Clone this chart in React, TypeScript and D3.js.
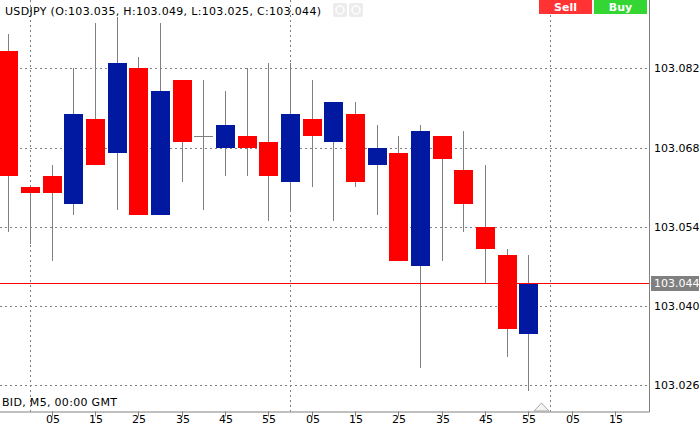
import React from "react";
import * as d3 from "d3";

// ---- data ----
const opens = [103.085, 103.061, 103.063, 103.058, 103.073, 103.067, 103.082, 103.056, 103.080, 103.070, 103.068, 103.070, 103.069, 103.062, 103.073, 103.069, 103.074, 103.065, 103.067, 103.047, 103.070, 103.064, 103.054, 103.049, 103.035];
const highs = [103.088, 103.061, 103.065, 103.082, 103.090, 103.091, 103.084, 103.090, 103.080, 103.080, 103.078, 103.082, 103.083, 103.083, 103.080, 103.076, 103.076, 103.072, 103.070, 103.072, 103.070, 103.071, 103.065, 103.050, 103.049];
const lows = [103.053, 103.051, 103.048, 103.056, 103.065, 103.057, 103.056, 103.056, 103.062, 103.057, 103.063, 103.063, 103.055, 103.057, 103.061, 103.055, 103.061, 103.056, 103.048, 103.029, 103.048, 103.053, 103.044, 103.031, 103.025];
const closes = [103.063, 103.060, 103.060, 103.074, 103.065, 103.083, 103.056, 103.078, 103.069, 103.070, 103.072, 103.068, 103.063, 103.074, 103.070, 103.076, 103.062, 103.068, 103.048, 103.071, 103.066, 103.058, 103.050, 103.036, 103.044];
const priceTicks = [103.082, 103.068, 103.054, 103.040, 103.026];
const timeLabels = ["05", "15", "25", "35", "45", "55", "05", "15", "25", "35", "45", "55", "05", "15"];
const hourIndices = [1, 13, 25];
const currentPrice = 103.044;
const symbol = "USDJPY";
const infoText = "BID, M5, 00:00 GMT";

const W = 699;
const H = 425;
const plotRight = 649;
const plotBottom = 411.5;

const fontFamily = "'DejaVu Sans', Verdana, sans-serif";

export default function App() {
  const x = d3.scaleLinear().domain([0, 24]).range([8.2, 528.2]);
  const y = d3.scaleLinear().domain([103.026, 103.082]).range([385.2, 68.4]);
  const cx = (i: number) => Math.round(x(i));
  const py = (p: number) => Math.round(y(p));

  const candles = opens.map((o, i) => ({ o, h: highs[i], l: lows[i], c: closes[i], i }));
  const header = `${symbol} (O:${opens[24].toFixed(3)}, H:${highs[24].toFixed(3)}, L:${lows[24].toFixed(3)}, C:${closes[24].toFixed(3)})`;

  return (
    <svg width={W} height={H} style={{ position: "absolute", left: 0, top: 0, background: "#fff" }} fontFamily={fontFamily}>
      <rect x={0} y={0} width={W} height={H} fill="#ffffff" />
      {/* grid */}
      {priceTicks.map((p) => (
        <line key={"hg" + p} x1={0} x2={plotRight} y1={py(p) + 0.5} y2={py(p) + 0.5} stroke="#808080" strokeDasharray="2,3" />
      ))}
      {hourIndices.map((i) => (
        <line key={"vg" + i} x1={cx(i) + 0.5} x2={cx(i) + 0.5} y1={0} y2={plotBottom} stroke="#808080" strokeDasharray="2,3" />
      ))}
      {/* candles */}
      {candles.map((d) => {
        const xc = cx(d.i);
        const top = Math.min(py(d.o), py(d.c));
        const bot = Math.max(py(d.o), py(d.c));
        const bull = d.c > d.o;
        const doji = d.c === d.o;
        return (
          <g key={"c" + d.i}>
            <line x1={xc + 0.5} x2={xc + 0.5} y1={py(d.h)} y2={py(d.l)} stroke="#808080" strokeWidth={1} />
            {doji ? (
              <line x1={xc - 9} x2={xc + 10} y1={top + 0.5} y2={top + 0.5} stroke="#808080" />
            ) : (
              <rect x={xc - 9} y={top} width={19} height={Math.max(1, bot - top)} fill={bull ? "#0019a0" : "#ff0000"} />
            )}
          </g>
        );
      })}
      {/* current price line */}
      <line x1={0} x2={plotRight} y1={py(currentPrice) + 0.5} y2={py(currentPrice) + 0.5} stroke="#ff0000" />
      {/* axes */}
      <line x1={plotRight + 0.5} x2={plotRight + 0.5} y1={0} y2={plotBottom + 0.5} stroke="#808080" />
      <line x1={0} x2={plotRight + 0.5} y1={plotBottom + 0.5} y2={plotBottom + 0.5} stroke="#808080" />
      {priceTicks.map((p) => (
        <text key={"pt" + p} x={654} y={py(p) + 4} fontSize={11} fill="#000">
          {p.toFixed(3)}
        </text>
      ))}
      <rect x={651} y={py(currentPrice) - 7} width={W - 651} height={15} fill="#808080" />
      <text x={654} y={py(currentPrice) + 4} fontSize={11} fill="#ffffff">
        {currentPrice.toFixed(3)}
      </text>
      {timeLabels.map((t, k) => {
        const i = 2 + 2 * k;
        return (
          <g key={"tl" + k}>
            <line x1={cx(i) + 0.5} x2={cx(i) + 0.5} y1={plotBottom} y2={plotBottom + 5} stroke="#808080" />
            <text x={cx(i) + 1} y={423} fontSize={11} textAnchor="middle" fill="#000">
              {t}
            </text>
          </g>
        );
      })}
      {/* shift marker */}
      <polygon points={`534,411 541.5,403 549,411`} fill="#f4f4f4" stroke="#a8a8a8" />
      {/* header */}
      <text x={5} y={15} fontSize={11} fill="#000" textLength={316} lengthAdjust="spacing">{header}</text>
      <rect x={333} y={3} width={14} height={14} rx={2} fill="#ececec" />
      <circle cx={340} cy={10} r={4} fill="none" stroke="#ffffff" strokeWidth={1.5} />
      <rect x={349} y={3} width={14} height={14} rx={2} fill="#ececec" />
      <circle cx={356} cy={10} r={4} fill="none" stroke="#ffffff" strokeWidth={1.5} />
      <text x={2} y={406} fontSize={11} fill="#000" textLength={115} lengthAdjust="spacing">{infoText}</text>
      {/* buttons */}
      <rect x={539} y={0} width={53} height={14} fill="#ff3333" />
      <text x={565.5} y={11} fontSize={11} fontWeight="bold" textAnchor="middle" fill="#ffffff">Sell</text>
      <rect x={594} y={0} width={53} height={14} fill="#33d633" />
      <text x={620.5} y={11} fontSize={11} fontWeight="bold" textAnchor="middle" fill="#ffffff">Buy</text>
    </svg>
  );
}
